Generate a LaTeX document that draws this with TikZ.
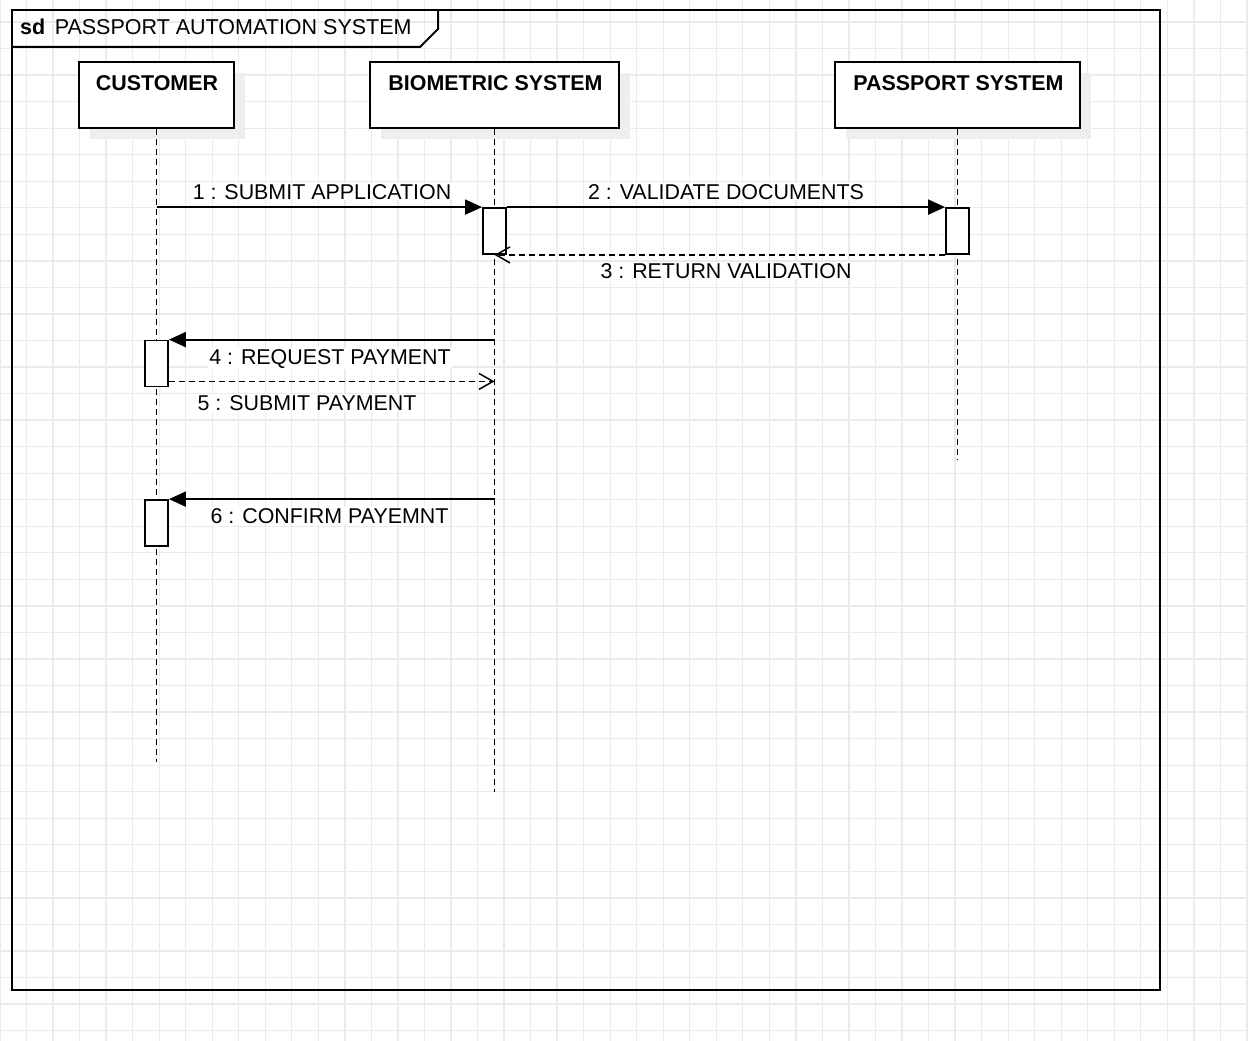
\documentclass[tikz,border=0pt]{standalone}
\usepackage{fontspec}
\setmainfont{Liberation Sans}
\usetikzlibrary{arrows.meta,shadows,calc}
\definecolor{gridc}{HTML}{EBEBEB}
\definecolor{shadowc}{HTML}{EEEEEE}
\tikzset{
  gridline/.style={draw=gridc, line width=1.3pt},
  frameline/.style={draw=black, line width=2pt},
  headbox/.style={draw=black, line width=2pt, fill=white, rectangle, inner sep=0pt,
    drop shadow={shadow xshift=11pt, shadow yshift=-11pt, fill=shadowc, opacity=1}},
  headtext/.style={inner sep=0pt, anchor=base, font=\fontsize{21.4}{25}\selectfont\bfseries},
  lifeline/.style={draw=black, line width=1.6pt, dash pattern=on 6pt off 4pt},
  actbar/.style={draw=black, line width=1.8pt, fill=white, rectangle, inner sep=0pt,
    minimum width=23pt, minimum height=46pt},
  callmsg/.style={draw=black, line width=2pt, -{Triangle[length=17pt,width=15pt]}},
  retmsg/.style={draw=black, line width=1.5pt, dash pattern=on 6pt off 4pt,
    -{Straight Barb[length=14pt,width=16pt,line width=1.5pt]}},
  msglabel/.style={inner sep=1pt, fill=white, anchor=base, font=\fontsize{21.4}{25}\selectfont}
}
\begin{document}
\begin{tikzpicture}[x=1pt,y=-1pt]
\useasboundingbox (0,0) rectangle (1248,1041);
\fill[white] (0,0) rectangle (1248,1041);
% grid
\foreach \k in {0,...,47} {\draw[gridline] (26.53*\k,0) -- (26.53*\k,1041);}
\foreach \k in {0,...,39} {\draw[gridline] (0,26.54*\k-4.5) -- (1248,26.54*\k-4.5);}
% frame
\draw[frameline] (12,10) rectangle (1160,990);
\draw[frameline] (12,47) -- (420,47) -- (438,29) -- (438,10);
\node[inner sep=0pt, anchor=base west, font=\fontsize{21.5}{25}\selectfont] (title) at (20,34.5)
  {\textbf{sd}\hspace{9.5pt}PASSPORT AUTOMATION SYSTEM};
% heads
\node[headbox, minimum width=155pt, minimum height=66pt] (cust) at (156.5,95) {};
\node[headbox, minimum width=249pt, minimum height=66pt] (bio) at (494.5,95) {};
\node[headbox, minimum width=245pt, minimum height=66pt] (pass) at (957.5,95) {};
\node[headtext] (custt) at (157,91) {CUSTOMER};
\node[headtext] (biot) at (495.5,91) {BIOMETRIC SYSTEM};
\node[headtext] (passt) at (958.5,91) {PASSPORT SYSTEM};
% lifeline ends
\coordinate (custend) at (156.5,762);
\coordinate (bioend) at (494.5,792);
\coordinate (passend) at (957.5,460);
\draw[lifeline] (cust.south) -- (custend);
\draw[lifeline] (bio.south) -- (bioend);
\draw[lifeline] (pass.south) -- (passend);
% activation bars
\node[actbar] (bioact) at (494.5,231) {};
\node[actbar] (passact) at (957.5,231) {};
\node[actbar] (custact1) at (156.5,363.5) {};
\node[actbar] (custact2) at (156.5,523) {};
% messages
\draw[callmsg] (cust |- bioact.north west) -- (bioact.north west);
\draw[callmsg] (bioact.north east) -- (passact.north west);
\draw[retmsg] (passact.south west) -- (bio |- passact.south west);
\draw[callmsg] (bio |- custact1.north east) -- (custact1.north east);
\coordinate (m5s) at ([yshift=6pt]custact1.south east);
\draw[retmsg] (m5s) -- (bio |- m5s);
\draw[callmsg] (bio |- custact2.north east) -- (custact2.north east);
% labels
\node[msglabel] (l1) at (322,199) {1 : SUBMIT APPLICATION};
\node[msglabel] (l2) at (726,199) {2 : VALIDATE DOCUMENTS};
\node[msglabel] (l3) at (726,278) {3 : RETURN VALIDATION};
\node[msglabel] (l4) at (330,364) {4 : REQUEST PAYMENT};
\node[msglabel] (l5) at (307,410) {5 : SUBMIT PAYMENT};
\node[msglabel] (l6) at (329.5,523) {6 : CONFIRM PAYEMNT};
\end{tikzpicture}
\end{document}
